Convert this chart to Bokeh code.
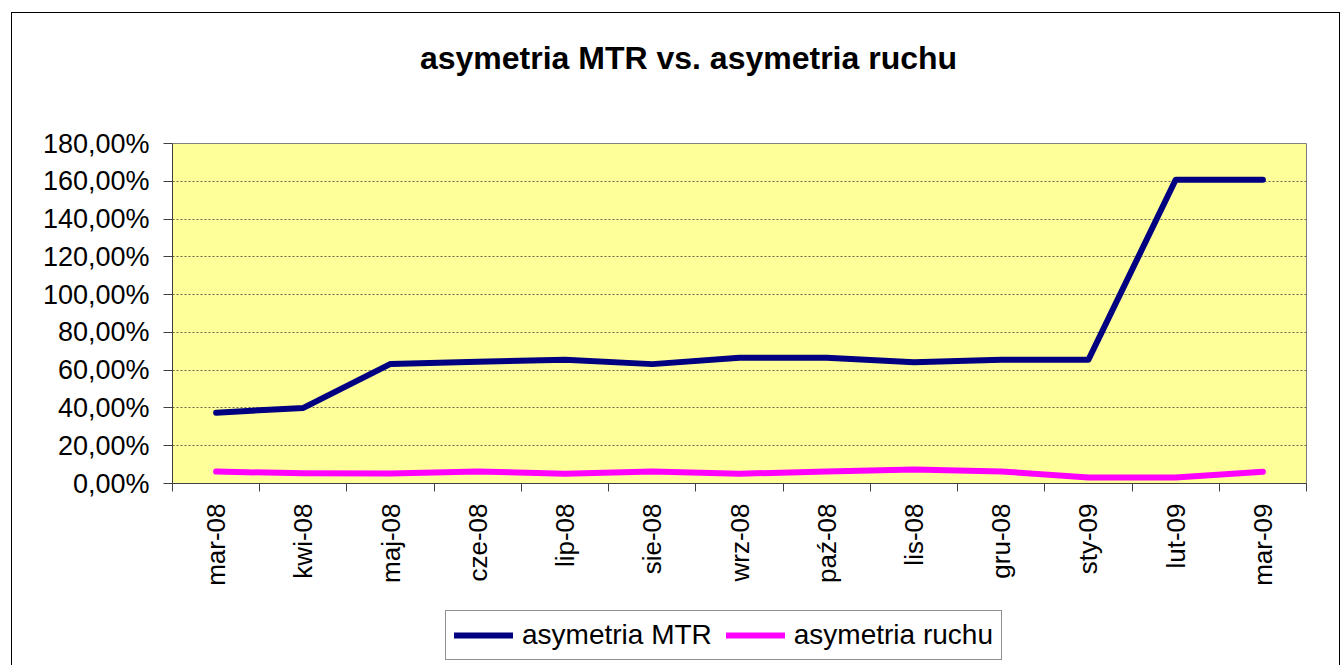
from bokeh.plotting import figure
from bokeh.models import FixedTicker, Legend, LegendItem, Range1d, Label
from bokeh.layouts import column
from bokeh.embed import file_html
from bokeh.resources import INLINE

months = ["mar-08", "kwi-08", "maj-08", "cze-08", "lip-08", "sie-08", "wrz-08",
          "paź-08", "lis-08", "gru-08", "sty-09", "lut-09", "mar-09"]
mtr = [37.5, 40.0, 63.3, 64.5, 65.5, 63.2, 66.6, 66.6, 64.2, 65.5, 65.5, 160.8, 160.8]
ruch = [6.3, 5.4, 5.3, 6.3, 5.2, 6.3, 5.2, 6.3, 7.4, 6.4, 3.2, 3.2, 6.2]
y_ticks = [0, 20, 40, 60, 80, 100, 120, 140, 160, 180]
y_labels = ["0,00%", "20,00%", "40,00%", "60,00%", "80,00%", "100,00%",
            "120,00%", "140,00%", "160,00%", "180,00%"]
series_names = ["asymetria MTR", "asymetria ruchu"]
series_values = [mtr, ruch]
series_colors = ["#000080", "#FF00FF"]
title_text = "asymetria MTR vs. asymetria ruchu"

FONT = "Liberation Sans"
W = 1340
LEFT, RIGHT = 172, 1306   # frame edges (pixels) shared by all strips
xs = [i + 0.5 for i in range(len(months))]


def blank_figure(height):
    f = figure(width=W, height=height, output_backend="svg", toolbar_location=None,
               x_range=Range1d(LEFT, RIGHT), y_range=Range1d(0, height),
               x_axis_location=None, y_axis_location=None, min_border=0)
    f.grid.visible = False
    f.outline_line_color = None
    f.background_fill_alpha = 0
    f.border_fill_alpha = 0
    return f


# ---- title strip ----
tfig = blank_figure(120)
tfig.add_layout(Label(x=688, y=63, text=title_text, text_font=FONT,
                      text_font_size="32px", text_font_style="bold",
                      text_color="black", text_align="center",
                      text_baseline="middle"))

# ---- main chart ----
fig = figure(width=W, height=480, output_backend="svg", toolbar_location=None,
             x_range=Range1d(0, len(months)), y_range=Range1d(0, 180),
             min_border_left=LEFT, min_border_right=W - RIGHT, min_border_top=23,
             min_border_bottom=117)
fig.background_fill_color = "#FFFF99"
fig.border_fill_alpha = 0
fig.outline_line_color = "#808080"
fig.outline_line_width = 1

for vals, col in zip(series_values, series_colors):
    fig.line(xs, vals, line_color=col, line_width=6,
             line_join="round", line_cap="round")

fig.xaxis.ticker = FixedTicker(ticks=xs, minor_ticks=list(range(len(months) + 1)))
fig.xaxis.major_label_overrides = {x: m for x, m in zip(xs, months)}
fig.xaxis.major_label_orientation = 3.14159265 / 2
fig.xaxis.major_tick_line_color = None
fig.xaxis.minor_tick_in = 0
fig.xaxis.minor_tick_out = 8
fig.xaxis.minor_tick_line_color = "#404040"
fig.xaxis.axis_line_color = "#404040"
fig.xaxis.major_label_text_font = FONT
fig.xaxis.major_label_text_font_size = "26px"
fig.xaxis.major_label_text_color = "black"
fig.xaxis.major_label_standoff = 12

fig.yaxis.ticker = FixedTicker(ticks=y_ticks, minor_ticks=[])
fig.yaxis.major_label_overrides = {t: l for t, l in zip(y_ticks, y_labels)}
fig.yaxis.major_tick_in = 0
fig.yaxis.major_tick_out = 9
fig.yaxis.major_tick_line_color = "#404040"
fig.yaxis.axis_line_color = "#404040"
fig.yaxis.major_label_text_font = FONT
fig.yaxis.major_label_text_font_size = "27px"
fig.yaxis.major_label_text_color = "black"
fig.yaxis.major_label_standoff = 14

fig.xgrid.grid_line_color = None
fig.ygrid.grid_line_color = "#404040"
fig.ygrid.grid_line_dash = "2 2"
fig.ygrid.grid_line_width = 1
fig.ygrid.grid_line_alpha = 0.8

# ---- legend strip ----
# the series are drawn again here only to give the legend its samples;
# their x values lie left of this strip's range, so nothing shows but the legend
lfig = blank_figure(65)
items = []
for name, vals, col in zip(series_names, series_values, series_colors):
    r = lfig.line(xs, vals, line_color=col, line_width=6, line_cap="round")
    items.append(LegendItem(label=name, renderers=[r]))
legend = Legend(items=items, orientation="horizontal", location=(273, 5),
                label_text_font=FONT, label_text_font_size="28px",
                label_text_color="black", glyph_width=59, glyph_height=24,
                label_standoff=9, spacing=14, padding=8, margin=0,
                border_line_color="#202020", border_line_width=1,
                background_fill_color="white", background_fill_alpha=1)
lfig.add_layout(legend, "center")

p = column(tfig, fig, lfig, spacing=0)
p.styles = {
    "background": "linear-gradient(#000,#000) 11px 12px / 1px 100% no-repeat, "
                  "linear-gradient(#000,#000) 11px 12px / 1329px 1px no-repeat, "
                  "linear-gradient(#000,#000) 1339px 12px / 1px 100% no-repeat, white"
}

open("out.html", "w").write(file_html(p, INLINE))
